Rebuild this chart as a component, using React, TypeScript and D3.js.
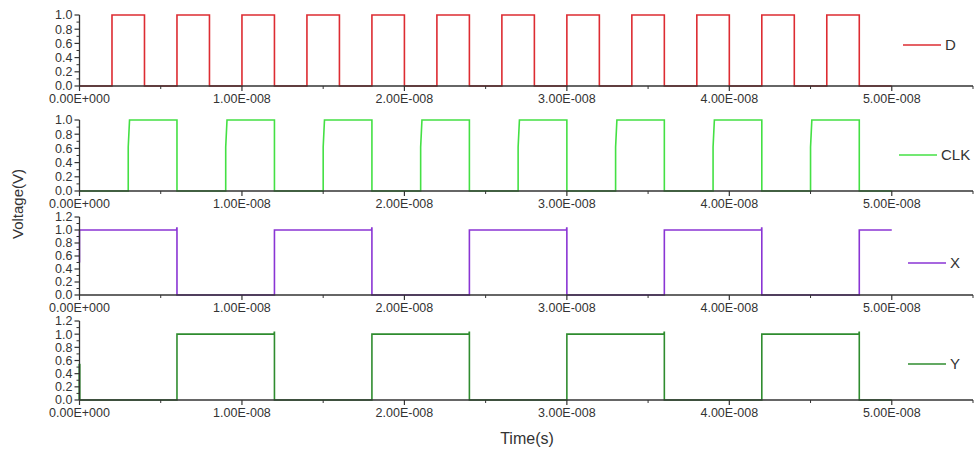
import React from 'react';
import * as d3 from 'd3';

// Time axis (ns) and tick labels
const xTicks = [0, 10, 20, 30, 40, 50];
const xTickLabels = ['0.00E+000', '1.00E-008', '2.00E-008', '3.00E-008', '4.00E-008', '5.00E-008'];
const xMinorTicks = [5, 15, 25, 35, 45, 55];

// High intervals of each signal, in ns
const dPulses = [[2, 4], [6, 8], [10, 12], [14, 16], [18, 20], [22, 24], [26, 28], [30, 32], [34, 36], [38, 40], [42, 44], [46, 48]];
const clkPulses = [[3, 6], [9, 12], [15, 18], [21, 24], [27, 30], [33, 36], [39, 42], [45, 48]];
const xPulses = [[0, 6], [12, 18], [24, 30], [36, 42], [48, 50]];
const yPulses = [[6, 12], [18, 24], [30, 36], [42, 48]];

const yTicksA = [0, 0.2, 0.4, 0.6, 0.8, 1.0];
const yTicksB = [0, 0.2, 0.4, 0.6, 0.8, 1.0, 1.2];

const T_END = 50;
const FONT = 'Arial, "Liberation Sans", Helvetica, sans-serif';
const AXIS = '#333';

type Panel = {
  name: string;
  color: string;
  pulses: number[][];
  yMax: number;
  yTicks: number[];
  top: number;     // pixel of yMax
  bottom: number;  // pixel of 0
  legendY: number;
  legendX: number;
  knee?: boolean;   // clk rising edge shape
  spike?: boolean;  // overshoot at falling edges
  start?: [number, number]; // glitch at t=0
};

const panels: Panel[] = [
  { name: 'D', color: '#dd2c32', pulses: dPulses, yMax: 1.0, yTicks: yTicksA, top: 15, bottom: 86, legendY: 45, legendX: 903 },
  { name: 'CLK', color: '#44e044', pulses: clkPulses, yMax: 1.0, yTicks: yTicksA, top: 120, bottom: 191, legendY: 155, legendX: 899, knee: true },
  { name: 'X', color: '#8a35d4', pulses: xPulses, yMax: 1.2, yTicks: yTicksB, top: 217, bottom: 295, legendY: 263, legendX: 908, spike: true, start: [0.5, 1] },
  { name: 'Y', color: '#2f8c2f', pulses: yPulses, yMax: 1.2, yTicks: yTicksB, top: 321, bottom: 400, legendY: 364, legendX: 908, spike: true, start: [0, 0.55] },
];

const x = d3.scaleLinear().domain([0, 55]).range([79.5, 973]);

function signalPoints(p: Panel): [number, number][] {
  const pts: [number, number][] = [];
  let t = 0;
  if (p.start) {
    pts.push([0, p.start[0]]);
  }
  for (const [a, b] of p.pulses) {
    if (a > t || pts.length === 0) {
      pts.push([t, 0]);
      pts.push([a, 0]);
    }
    if (p.knee) {
      pts.push([a, 0.62]);
      pts.push([a + 0.08, 1]);
    } else {
      pts.push([a, 1]);
    }
    if (p.spike && b < T_END) {
      pts.push([b - 0.02, 1]);
      pts.push([b - 0.01, 1.03]);
      pts.push([b, 1.03]);
      pts.push([b, 0]);
    } else if (b < T_END) {
      pts.push([b, 1]);
      pts.push([b, 0]);
    } else {
      pts.push([b, 1]);
    }
    t = b;
  }
  if (t < T_END) pts.push([T_END, 0]);
  return pts;
}

function PanelView({ p }: { p: Panel }) {
  const y = d3.scaleLinear().domain([0, p.yMax]).range([p.bottom, p.top]);
  const line = d3.line<[number, number]>().x(d => x(d[0])).y(d => y(d[1]));
  const pts = signalPoints(p);
  const minorY = d3.range(0.1, p.yMax, 0.2);
  const x0 = x(0);
  return (
    <g>
      {/* signal */}
      <path d={line(pts) || ''} fill="none" stroke={p.color} strokeWidth={1.6} />
      {p.name === 'Y' && (
        <path d={line([[0, 0], [0, 0.55]]) || ''} stroke={p.color} strokeWidth={2.2} />
      )}
      {/* y axis */}
      <line x1={x0} x2={x0} y1={y(p.yMax)} y2={p.bottom} stroke={AXIS} strokeWidth={1.3} />
      {p.yTicks.map(v => (
        <g key={v}>
          <line x1={x0 - 5} x2={x0} y1={y(v)} y2={y(v)} stroke={AXIS} strokeWidth={1.2} />
          <text x={x0 - 7} y={y(v)} dy="0.35em" textAnchor="end" fontSize={12.5} fill={AXIS} fontFamily={FONT}>
            {v.toFixed(1)}
          </text>
        </g>
      ))}
      {minorY.map(v => (
        <line key={'m' + v} x1={x0 - 3} x2={x0} y1={y(v)} y2={y(v)} stroke={AXIS} strokeWidth={1} />
      ))}
      {/* x axis */}
      <line x1={x0} x2={x(55)} y1={p.bottom} y2={p.bottom} stroke={AXIS} strokeWidth={1.3} />
      {xTicks.map((t, i) => (
        <g key={t}>
          <line x1={x(t)} x2={x(t)} y1={p.bottom} y2={p.bottom + 5} stroke={AXIS} strokeWidth={1.2} />
          <text x={x(t)} y={p.bottom + 17} textAnchor="middle" fontSize={12.5} fill={AXIS} fontFamily={FONT}>
            {xTickLabels[i]}
          </text>
        </g>
      ))}
      {xMinorTicks.map(t => (
        <line key={'mx' + t} x1={x(t)} x2={x(t)} y1={p.bottom} y2={p.bottom + 3} stroke={AXIS} strokeWidth={1} />
      ))}
      {/* legend */}
      <line x1={p.legendX} x2={p.legendX + 38} y1={p.legendY} y2={p.legendY} stroke={p.color} strokeWidth={1.6} />
      <text x={p.legendX + 42} y={p.legendY} dy="0.36em" fontSize={15} fill={AXIS} fontFamily={FONT}>
        {p.name}
      </text>
    </g>
  );
}

export default function App() {
  return (
    <svg width={976} height={451} style={{ position: 'absolute', left: 0, top: 0, background: '#fff' }}>
      <rect width={976} height={451} fill="#fff" />
      {panels.map(p => <PanelView key={p.name} p={p} />)}
      <text
        transform="translate(23,204) rotate(-90)"
        textAnchor="middle"
        fontSize={15}
        fill={AXIS}
        fontFamily={FONT}
      >
        Voltage(V)
      </text>
      <text x={527} y={444} textAnchor="middle" fontSize={16} fill={AXIS} fontFamily={FONT}>
        Time(s)
      </text>
    </svg>
  );
}
